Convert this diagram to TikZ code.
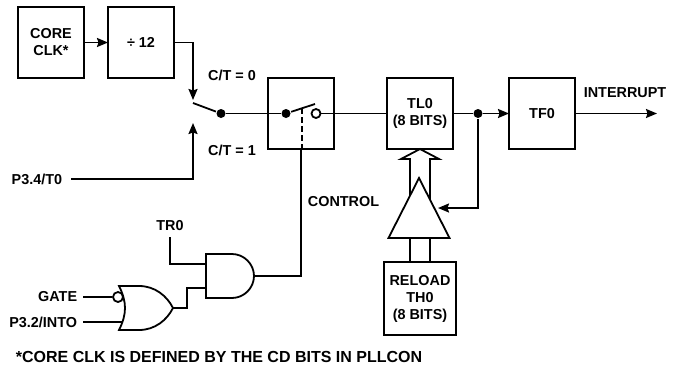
\documentclass[tikz,border=0pt]{standalone}
\usepackage{fontspec}
\setmainfont{Liberation Sans}
\usetikzlibrary{arrows.meta,positioning,calc,shapes.geometric}

\begin{document}
\begin{tikzpicture}[
  x=1pt,y=-1pt,
  font=\fontsize{14.4pt}{17pt}\selectfont\bfseries,
  line width=1.8pt,
  node distance=24pt and 24pt,
  box/.style={draw,outer sep=0pt,inner sep=1pt,minimum width=66pt,minimum height=71pt,align=center},
  lbl/.style={inner sep=5pt,align=center},
  dot/.style={circle,fill=black,inner sep=0pt,minimum size=9pt},
  opendot/.style={circle,draw,fill=white,inner sep=0pt,minimum size=9pt},
  buffer/.style={draw,fill=white,isosceles triangle,isosceles triangle stretches,shape border rotate=90,inner sep=0pt,outer sep=0pt,minimum width=61pt,minimum height=60pt},
  flow/.style={-{Stealth[length=11pt,width=9pt,inset=1.5pt]}},
  andshape/.pic={
    \draw (0,-22) -- (26,-22) .. controls (38,-22) and (48,-12) .. (48,0)
      .. controls (48,12) and (38,22) .. (26,22) -- (0,22) -- cycle;
    \coordinate (-in1) at (0,-12);
    \coordinate (-in2) at (0,12);
    \coordinate (-out) at (48,0);
  },
  norshape/.pic={
    \draw (0,-22) .. controls (4,-14) and (6,-7) .. (6,0) .. controls (6,7) and (4,14) .. (0,22)
      -- (20,22) .. controls (36,22) and (48,12) .. (54,0) .. controls (48,-12) and (36,-22) .. (20,-22) -- cycle;
    \node[opendot,minimum size=10pt] (-bub) at (-1,-11) {};
    \coordinate (-in2) at (3,14);
    \coordinate (-out) at (54,0);
  },
]
\useasboundingbox (0,0) rectangle (681,370);

% top row
\node[box] (core) at (51,42.5) {CORE\\CLK*};
\node[box,right=of core] (div) {÷ 12};
\node[box] (sw) at (301,113.5) {};
\node[box,right=53pt of sw] (tl0) {TL0\\(8 BITS)};
\node[box,right=56pt of tl0] (tf0) {TF0};
\node[box,minimum width=72pt,minimum height=73pt,below=113pt of tl0] (reload) {RELOAD\\TH0\\(8 BITS)};

\draw[flow] (core) -- (div);

% switch
\coordinate (upin) at (193,100);
\coordinate (lowin) at (193,123);
\coordinate (armin) at (193,103);
\coordinate (armout) at (315,104);
\coordinate (armmid) at (302,108);
\node[dot] (swdot) at (221,113.5) {};
\node[dot] (boxdot) at (286,113.5) {};
\node[opendot] (boxopen) at (316,113.5) {};
\node[dot] (fbdot) at (478,113.5) {};
\node[lbl,inner sep=8pt,anchor=east] (t0) at (71,179) {P3.4/T0};

\draw[flow] (div.east) -| (upin);
\draw[flow] (t0.east) -| (lowin);
\draw (armin) -- (swdot);
\draw (swdot) -- (boxdot);
\draw (boxdot) -- (armout);
\draw (boxopen) -- (tl0.west);
\draw (tl0.east) -- (fbdot);
\draw[flow] (fbdot) -- (tf0.west);

\coordinate (outend) at (657,113.5);
\draw[flow] (tf0.east) -- (outend);
\node[lbl] (irq) at (625,93) {INTERRUPT};

\node[lbl] (ct0) at (232,75) {C/T = 0};
\node[lbl] (ct1) at (232,150) {C/T = 1};

% control gates
\pic (andgate) at (206,276) {andshape};
\pic (norgate) at (119,308) {norshape};
\node[lbl] (tr0) at (170,226) {TR0};
\node[lbl,anchor=east] (gate) at (83,297) {GATE};
\node[lbl,anchor=east] (int0) at (83,322) {P3.2/INTO};
\node[lbl,anchor=west] (control) at (302,202) {CONTROL};

\draw (tr0.south) |- (andgate-in1);
\draw (gate.east) -- (norgate-bub);
\draw (int0.east) -- (norgate-in2);
\draw (norgate-out) -- ++(14,0) |- (andgate-in2);
\draw (andgate-out) -| (sw.south);
\draw[dash pattern=on 6pt off 3pt,line width=1.3pt] (armmid) -- (armmid |- sw.south);

% reload path
\draw[fill=white] ($(tl0.south)+(-10,70)$) -- ($(tl0.south)+(-10,10)$) -- ($(tl0.south)+(-19,10)$)
  -- (tl0.south) -- ($(tl0.south)+(19,10)$) -- ($(tl0.south)+(10,10)$) -- ($(tl0.south)+(10,70)$);
\node[buffer,anchor=apex] (buf) at ($(tl0.south)+(-1,29)$) {};
\draw ($(reload.north)+(-10,0)$) -- ($(reload.north)+(-10,-24)$);
\draw ($(reload.north)+(10,0)$) -- ($(reload.north)+(10,-24)$);

\coordinate (buftip) at (438,208);
\draw[flow] (fbdot) |- (buftip);

\node[lbl,font=\fontsize{16pt}{18pt}\selectfont\bfseries,anchor=west] (note) at (10,357) {*CORE CLK IS DEFINED BY THE CD BITS IN PLLCON};
\end{tikzpicture}
\end{document}
